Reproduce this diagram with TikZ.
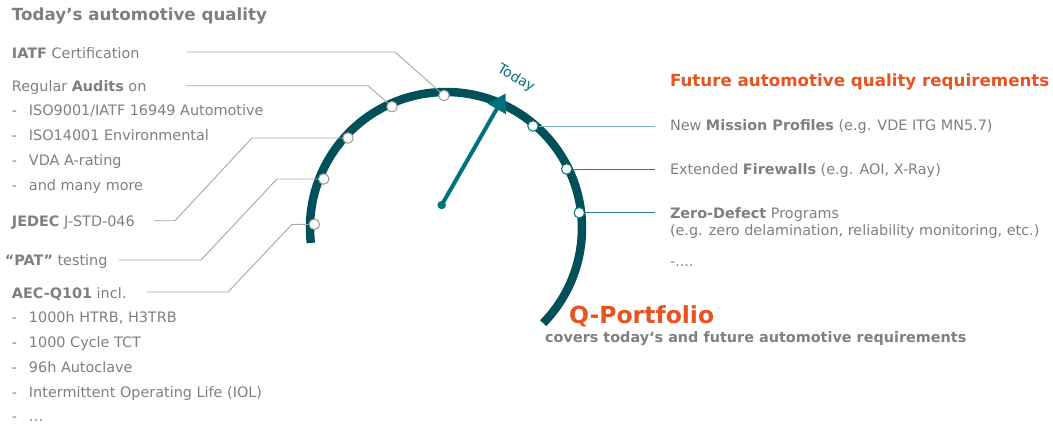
\documentclass[tikz,border=0pt]{standalone}
\usepackage{fontspec}
\setmainfont{DejaVu Sans}
\usetikzlibrary{arrows.meta,calc}
\definecolor{tgray}{HTML}{7F7F7F}
\definecolor{lgray}{HTML}{A6A6A6}
\definecolor{cgray}{HTML}{999999}
\definecolor{arcteal}{HTML}{00505A}
\definecolor{needleteal}{HTML}{00727D}
\definecolor{lteal}{HTML}{7FB4BA}
\definecolor{mteal}{HTML}{2A7680}
\definecolor{qorange}{HTML}{E8531F}
\begin{document}
\begin{tikzpicture}[x=1pt,y=-1pt,
  txt/.style={anchor=base west, inner sep=0, outer sep=0, font=\fontsize{14.4}{17}\selectfont, text=tgray},
  head/.style={anchor=base west, inner sep=0, outer sep=0, font=\fontsize{16.7}{20}\selectfont\bfseries},
  conn/.style={draw=lgray, line width=0.9pt},
  rconn/.style={draw=mteal, line width=0.9pt},
  lmark/.style={circle, draw=cgray, fill=white, line width=1pt, minimum size=10.5pt, inner sep=0},
  rmark/.style={circle, draw=needleteal, fill=white, line width=1pt, minimum size=10.5pt, inner sep=0}
]
\useasboundingbox (0,0) rectangle (1053,426);
\newcommand{\dsh}{\makebox[17pt][l]{-}}

% ---- arc ----
\coordinate (C) at (446,228);
\draw[arcteal, line width=8.5pt] ($(C)+(-186.3:136)$) arc[start angle=-186.3, end angle=44.4, radius=136];

% ---- markers ----
\node[lmark] (c1) at (444,95.5) {};
\node[lmark] (c2) at (392,106.7) {};
\node[lmark] (c3) at (348,138) {};
\node[lmark] (c4) at (323.7,179) {};
\node[lmark] (c5) at (314.3,224.3) {};
\node[rmark] (r1) at (533,126) {};
\node[rmark] (r2) at (566.7,169) {};
\node[rmark] (r3) at (579.3,212.7) {};

% ---- needle ----
\node[circle, fill=needleteal, minimum size=8.5pt, inner sep=0] (dot) at (441.7,205) {};
\coordinate (tip) at (505.7,93.3);
\draw[needleteal, line width=4pt, -{Triangle[length=18pt,width=20pt]}] (dot.center) -- (tip);
\node[rotate=-30, text=needleteal, font=\fontsize{14}{16}\selectfont, inner sep=0] (today) at (516,78.5) {Today};

% ---- left texts ----
\node[head, text=tgray] (t1) at (12,20.7) {Today’s automotive quality};
\node[txt] (iatf) at (12,58) {\textbf{IATF} Certification};
\node[txt] (aud) at (12,91.3) {Regular \textbf{Audits} on};
\node[txt] (a1) at (12,115.5) {\dsh ISO9001/IATF 16949 Automotive};
\node[txt] (a2) at (12,140.3) {\dsh ISO14001 Environmental};
\node[txt] (a3) at (12,165.3) {\dsh VDA A-rating};
\node[txt] (a4) at (12,190.3) {\dsh and many more};
\node[txt] (jedec) at (12,226) {\textbf{JEDEC} J-STD-046};
\node[txt] (pat) at (5,265.5) {\textbf{“PAT”} testing};
\node[txt] (aec) at (12,298) {\textbf{AEC-Q101} incl.};
\node[txt] (b1) at (12,322.5) {\dsh 1000h HTRB, H3TRB};
\node[txt] (b2) at (12,347.3) {\dsh 1000 Cycle TCT};
\node[txt] (b3) at (12,372.2) {\dsh 96h Autoclave};
\node[txt] (b4) at (12,397) {\dsh Intermittent Operating Life (IOL)};
\node[txt] (b5) at (12,421.5) {\dsh …};

% ---- left connectors ----
\coordinate (s1) at (186,52);   \coordinate (k1) at (395,52);
\coordinate (s2) at (186,85.7); \coordinate (k2) at (368,85.7);
\coordinate (s3) at (154,220.7); \coordinate (k3a) at (175,220.7); \coordinate (k3b) at (252,138);
\coordinate (s4) at (119,260);  \coordinate (k4a) at (201,260);   \coordinate (k4b) at (277,179);
\coordinate (s5) at (147,292);  \coordinate (k5a) at (228,292);   \coordinate (k5b) at (292,224.3);
\draw[conn] (s1) -- (k1) -- (c1);
\draw[conn] (s2) -- (k2) -- (c2);
\draw[conn] (s3) -- (k3a) -- (k3b) -- (c3);
\draw[conn] (s4) -- (k4a) -- (k4b) -- (c4);
\draw[conn] (s5) -- (k5a) -- (k5b) -- (c5);

% ---- right texts ----
\node[head, text=qorange] (t2) at (670,86.7) {Future automotive quality requirements};
\node[txt] (m1) at (670,130.7) {New \textbf{Mission Profiles} (e.g. VDE ITG MN5.7)};
\node[txt] (m2) at (670,174.3) {Extended \textbf{Firewalls} (e.g. AOI, X-Ray)};
\node[txt] (m3) at (670,218.3) {\textbf{Zero-Defect} Programs};
\node[txt] (m3b) at (670,235.3) {(e.g. zero delamination, reliability monitoring, etc.)};
\node[txt] (m4) at (670,266.7) {-....};

% ---- right connectors ----
\coordinate (e1) at (655,126);
\coordinate (e2) at (655,169);
\coordinate (e3) at (655,212.7);
\draw[draw=lteal, line width=0.9pt] (r1) -- (e1);
\draw[rconn] (r2) -- (e2);
\draw[rconn] (r3) -- (e3);

% ---- Q-Portfolio ----
\node[anchor=base west, inner sep=0, font=\fontsize{23.5}{28}\selectfont\bfseries, text=qorange] (qp) at (569,323.3) {Q-Portfolio};
\node[anchor=base west, inner sep=0, font=\fontsize{14.4}{17}\selectfont\bfseries, text=tgray] (cov) at (545,342.3) {covers today‘s and future automotive requirements};
\end{tikzpicture}
\end{document}
